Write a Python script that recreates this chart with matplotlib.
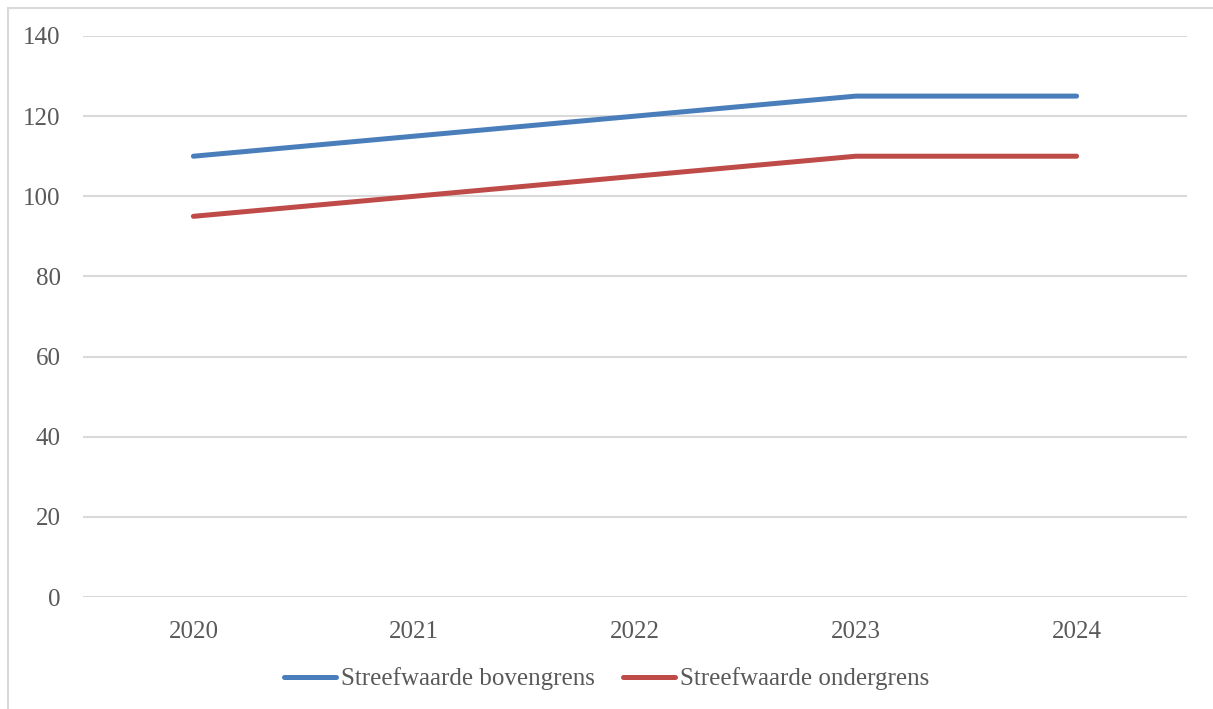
import matplotlib
matplotlib.use("Agg")
import matplotlib.pyplot as plt
from matplotlib.patches import Rectangle

years = ["2020", "2021", "2022", "2023", "2024"]
bovengrens = [110, 115, 120, 125, 125]
ondergrens = [95, 100, 105, 110, 110]
yticks = [0, 20, 40, 60, 80, 100, 120, 140]

plt.rcParams['font.family'] = ['Liberation Serif', 'DejaVu Serif']
W, H = 1213, 709
fig = plt.figure(figsize=(W/100, H/100), dpi=100)
ax = fig.add_axes([83/W, 1-597/H, (1187-83)/W, (597-36)/H])

x = list(range(len(years)))
ax.plot(x, bovengrens, color="#4a7ebb", lw=3.6, solid_capstyle="round", label="Streefwaarde bovengrens")
ax.plot(x, ondergrens, color="#be4b48", lw=3.6, solid_capstyle="round", label="Streefwaarde ondergrens")

ax.set_xlim(-0.5, 4.5)
ax.set_ylim(0, 140)
ax.set_yticks(yticks)
ax.set_xticks(x)
ax.set_xticklabels(years)
ax.grid(axis="y", color="#d9d9d9", lw=1.5)
ax.set_axisbelow(True)
for s in ax.spines.values():
    s.set_visible(False)
ax.tick_params(length=0, labelsize=18, colors="#595959")
ax.tick_params(axis="y", pad=16)
ax.tick_params(axis="x", pad=17)

leg = fig.legend(loc="center", bbox_to_anchor=(0.5, 1-679/H), ncol=2, frameon=False,
                 fontsize=18, handlelength=2.1, handletextpad=0.2, columnspacing=1.1)
for t in leg.get_texts():
    t.set_color("#595959")

fig.patches.append(Rectangle((8/W, -0.1), 1.2, 1-8/H+0.1, transform=fig.transFigure,
                             fill=False, edgecolor="#d9d9d9", lw=1.5))
fig.savefig("out.png", dpi=100)
